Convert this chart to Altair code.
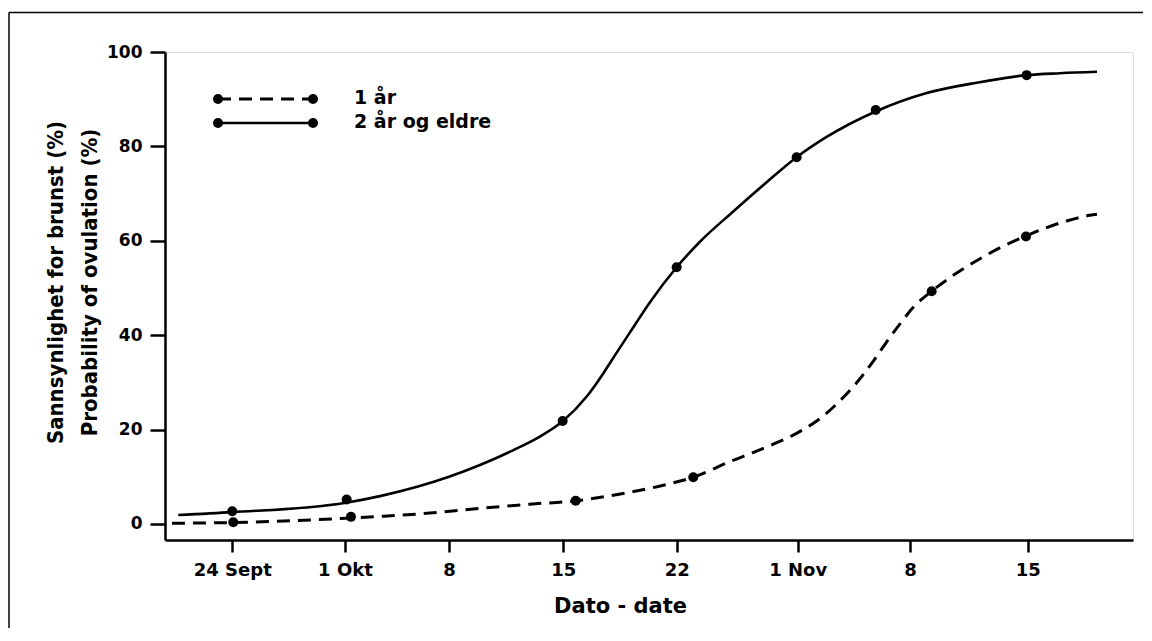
import altair as alt
import pandas as pd

# x axis: positions in "week units" since 24 Sept (axis is drawn with uneven spacing)
x_ticks = [0.0, 0.992, 1.908, 2.914, 3.912, 4.977, 5.966, 7.002]
x_tick_labels = ["24 Sept", "1 Okt", "8", "15", "22", "1 Nov", "8", "15"]
y_ticks = [0, 20, 40, 60, 80, 100]

# 2 år og eldre (solid) fitted curve
solid_curve_x = [-0.475, 0.0, 1.001, 1.300, 1.908, 2.471, 2.700, 2.911, 3.120, 3.266, 3.384, 3.501, 3.677,
                 3.912, 4.117, 4.410, 4.704, 4.968, 5.232, 5.664, 6.113, 6.553, 6.993, 7.286, 7.612]
solid_curve_y = [1.9, 2.5, 4.5, 5.9, 10.0, 15.6, 18.4, 21.8, 27.0, 31.9, 36.3, 40.6, 47.0,
                 54.4, 59.8, 66.2, 72.4, 77.7, 82.0, 87.4, 91.3, 93.5, 95.1, 95.5, 95.8]
solid_pts_x = [0.0, 1.007, 2.908, 3.912, 4.968, 5.664, 6.993]
solid_pts_y = [2.7, 5.2, 21.8, 54.4, 77.7, 87.7, 95.1]

# 1 år (dashed) fitted curve
dashed_curve_x = [-0.531, 0.0, 1.001, 1.300, 1.740, 2.180, 2.621, 3.023, 3.354, 3.794, 4.058, 4.381,
                  4.528, 4.762, 4.968, 5.144, 5.320, 5.496, 5.643, 5.761, 5.878, 5.995, 6.157, 6.318,
                  6.450, 6.611, 6.773, 6.987, 7.169, 7.345, 7.550, 7.612]
dashed_curve_y = [0.15, 0.3, 1.2, 1.6, 2.3, 3.3, 4.2, 4.9, 6.1, 8.2, 9.9, 13.2,
                  14.6, 16.9, 19.2, 21.8, 25.4, 29.9, 34.5, 38.6, 42.4, 45.9, 49.3, 52.2,
                  54.3, 56.6, 58.7, 61.0, 62.8, 64.2, 65.4, 65.6]
dashed_pts_x = [0.009, 1.045, 3.023, 4.058, 6.157, 6.987]
dashed_pts_y = [0.35, 1.5, 4.9, 9.9, 49.3, 60.9]

legend_labels = ["1 år", "2 år og eldre"]

FONT = "DejaVu Sans"
COND = "DejaVu Sans Condensed, Liberation Sans Narrow, Liberation Sans, sans-serif"

solid_curve = pd.DataFrame({"x": solid_curve_x, "y": solid_curve_y})
dashed_curve = pd.DataFrame({"x": dashed_curve_x, "y": dashed_curve_y})
solid_pts = pd.DataFrame({"x": solid_pts_x, "y": solid_pts_y})
dashed_pts = pd.DataFrame({"x": dashed_pts_x, "y": dashed_pts_y})

xs = alt.Scale(domain=[-0.592, 7.929], nice=False, zero=False)
ys = alt.Scale(domain=[-3.4, 100], nice=False, zero=False)

label_expr = "[" + ",".join("'%s'" % l for l in x_tick_labels) + "][indexof([" + \
    ",".join(str(v) for v in x_ticks) + "], datum.value)]"

x_axis = alt.Axis(values=x_ticks, labelExpr=label_expr, title="Dato - date",
                  grid=False, domainColor="black", domainWidth=2.5, tickColor="black",
                  tickWidth=2.5, tickSize=12, labelFont=FONT, labelFontSize=18,
                  labelFontWeight="bold", labelColor="black", labelPadding=9,
                  titleFont=FONT, titleFontSize=21, titleFontWeight="bold", titleColor="black",
                  titleX=455, titleY=72, titleBaseline="alphabetic", titleAlign="center")
y_axis = alt.Axis(values=y_ticks, title=["Sannsynlighet for brunst (%)", "Probability of ovulation (%)"],
                  grid=False, domainColor="black", domainWidth=2.5, tickColor="black",
                  tickWidth=2.5, tickSize=15, labelFont=FONT, labelFontSize=17,
                  labelFontWeight="bold", labelColor="black", labelPadding=8,
                  titleFont=COND, titleFontSize=22, titleFontWeight="bold", titleColor="black",
                  titleAngle=270, titleX=-110, titleY=230, titleAlign="center",
                  titleBaseline="middle", titleLineHeight=34)

base_solid = alt.Chart(solid_curve).mark_line(color="black", strokeWidth=2.6, interpolate="monotone").encode(
    x=alt.X("x:Q", scale=xs, axis=x_axis),
    y=alt.Y("y:Q", scale=ys, axis=y_axis),
)
line_dashed = alt.Chart(dashed_curve).mark_line(color="black", strokeWidth=3, strokeDash=[13, 8],
                                                interpolate="monotone").encode(
    x=alt.X("x:Q", scale=xs), y=alt.Y("y:Q", scale=ys))
pts_solid = alt.Chart(solid_pts).mark_point(filled=True, color="black", size=100, opacity=1).encode(
    x=alt.X("x:Q", scale=xs), y=alt.Y("y:Q", scale=ys))
pts_dashed = alt.Chart(dashed_pts).mark_point(filled=True, color="black", size=100, opacity=1).encode(
    x=alt.X("x:Q", scale=xs), y=alt.Y("y:Q", scale=ys))

one = pd.DataFrame({"k": [0]})
leg_dash = alt.Chart(one).mark_rule(color="black", strokeWidth=3, strokeDash=[13, 8]).encode(
    x=alt.value(53), x2=alt.value(148), y=alt.value(47))
leg_solid = alt.Chart(one).mark_rule(color="black", strokeWidth=2.6).encode(
    x=alt.value(53), x2=alt.value(148), y=alt.value(71))
leg_pts = alt.Chart(pd.DataFrame({"px": [53, 148, 53, 148], "py": [47, 47, 71, 71]})).mark_point(
    filled=True, color="black", size=100, opacity=1).encode(
    x=alt.X("px:Q", scale=None), y=alt.Y("py:Q", scale=None))
leg_text = alt.Chart(pd.DataFrame({"label": legend_labels, "py": [46, 70]})).mark_text(
    align="left", baseline="middle", font=FONT, fontSize=19, fontWeight="bold", color="black").encode(
    x=alt.value(189), y=alt.Y("py:Q", scale=None), text="label:N")

# outer figure frame: top and left edges, kept well inside the drawing so the page never overflows
frame_top = alt.Chart(one).mark_rule(color="black", strokeWidth=1.5).encode(
    x=alt.value(-156), x2=alt.value(978), y=alt.value(-39.5))
frame_left = alt.Chart(one).mark_rule(color="black", strokeWidth=1.5).encode(
    x=alt.value(-156), y=alt.value(-39.5), y2=alt.value(576))

chart = alt.layer(base_solid, line_dashed, pts_solid, pts_dashed, leg_dash, leg_solid, leg_pts,
                  leg_text, frame_top, frame_left).properties(
    width=968, height=488,
    autosize=alt.AutoSizeParams(type="none"),
    padding={"left": 157, "top": 44, "right": 11, "bottom": 88},
).configure_view(strokeWidth=0).configure(background="white")

chart.save("out.html", embed_options={"renderer": "svg", "actions": False})
